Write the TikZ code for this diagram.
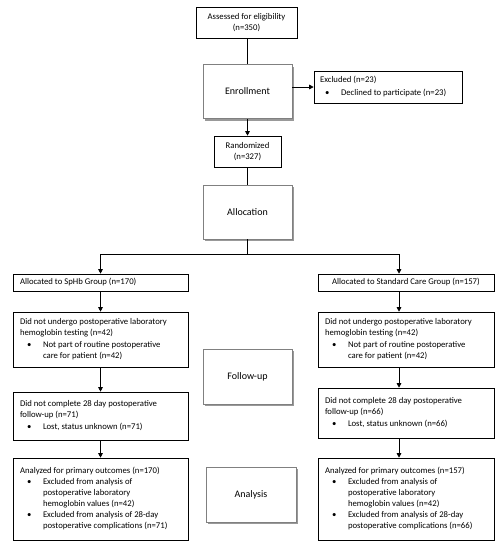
\documentclass[tikz,border=0pt]{standalone}
\usepackage{fontspec}
\setmainfont{Carlito}
\usepackage{tikz}
\usetikzlibrary{arrows.meta,positioning,shadows}

\newcommand{\bitem}{\hspace*{7pt}\makebox[16pt][l]{\textbullet}}
\newcommand{\bcont}{\hspace*{23pt}}

\begin{document}
\begin{tikzpicture}[
  x=1pt, y=-1pt,
  font=\fontsize{8.7}{11}\selectfont,
  box/.style={draw, line width=0.6pt, align=center, inner sep=0pt},
  listbox/.style={draw, line width=0.6pt, align=flush left, inner xsep=7pt, inner ysep=0pt, text width=161pt},
  stage/.style={draw=black!50, line width=0.8pt, fill=white, minimum width=89pt, minimum height=54pt,
    drop shadow={shadow xshift=2pt, shadow yshift=-2pt, fill=black!40, opacity=1},
    font=\fontsize{10}{12}\selectfont},
  arrow/.style={-{Triangle[length=4.5pt,width=4.5pt]}, line width=0.8pt},
  link/.style={line width=0.8pt}
]
\useasboundingbox (0,0) rectangle (500,546);

% top part
\node[box, minimum width=101pt, minimum height=31pt] (assess) at (246.5,22.5) {Assessed for eligibility\\(n=350)};
\node[stage] (enroll) at (247.5,91.5) {Enrollment};
\node[listbox, text width=136pt, inner xsep=6pt, minimum height=32pt] (excl) at (388,87) {Excluded (n=23)\\[2pt]\hspace*{-2pt}\bitem Declined to participate (n=23)};
\node[box, minimum width=67pt, minimum height=31pt] (rand) at (247.5,151.5) {Randomized\\(n=327)};
\node[stage] (alloc) at (247.5,212) {Allocation};
\coordinate (split) at (247.5,254);

% left column
\node[listbox, minimum height=17pt] (sphb) at (100.5,282.5) {Allocated to SpHb Group (n=170)};
\node[listbox, minimum height=55pt] (undL) at (100.5,339.5) {Did not undergo postoperative laboratory\\hemoglobin testing (n=42)\\[1pt]\bitem Not part of routine postoperative\\\bcont care for patient (n=42)};
\node[listbox, minimum height=48pt] (compL) at (100.5,416) {Did not complete 28 day postoperative\\follow-up (n=71)\\[1pt]\bitem Lost, status unknown (n=71)};
\node[listbox, minimum height=82pt] (anaL) at (100.5,499) {Analyzed for primary outcomes (n=170)\\\bitem Excluded from analysis of\\\bcont postoperative laboratory\\\bcont hemoglobin values (n=42)\\\bitem Excluded from analysis of 28-day\\\bcont postoperative complications (n=71)};

% stage labels
\node[stage, minimum height=55pt] (follow) at (247.5,376.5) {Follow-up};
\node[stage, minimum width=90pt, minimum height=55pt] (analysis) at (251,494.5) {Analysis};

% right column
\node[box, minimum width=176pt, minimum height=17pt] (std) at (406,282.5) {Allocated to Standard Care Group (n=157)};
\node[listbox, text width=162pt, minimum height=55pt] (undR) at (406,339.5) {Did not undergo postoperative laboratory\\hemoglobin testing (n=42)\\[1pt]\bitem Not part of routine postoperative\\\bcont care for patient (n=42)};
\node[listbox, text width=162pt, minimum height=50pt] (compR) at (406,413) {Did not complete 28 day postoperative\\follow-up (n=66)\\[1pt]\bitem Lost, status unknown (n=66)};
\node[listbox, text width=162pt, minimum height=82pt] (anaR) at (406,499) {Analyzed for primary outcomes (n=157)\\\bitem Excluded from analysis of\\\bcont postoperative laboratory\\\bcont hemoglobin values (n=42)\\\bitem Excluded from analysis of 28-day\\\bcont postoperative complications (n=66)};

% connectors
\draw[link] (assess.south -| enroll.north) -- (enroll.north);
\draw[arrow] (enroll.east |- excl.west) -- (excl.west);
\draw[arrow] (enroll) -- (rand);
\draw[link] (rand) -- (alloc);
\draw[link] (alloc) -- (split);
\draw[arrow] (split) -| (sphb.north);
\draw[arrow] (split) -| ([xshift=-7pt]std.north);
\draw[arrow] (sphb) -- (undL);
\draw[arrow] (undL) -- (compL);
\draw[arrow] (compL) -- (anaL);
\draw[arrow] ([xshift=-7pt]std.south) -- ([xshift=-7pt]undR.north);
\draw[arrow] ([xshift=-7pt]undR.south) -- ([xshift=-7pt]compR.north);
\draw[arrow] ([xshift=-7pt]compR.south) -- ([xshift=-7pt]anaR.north);
\end{tikzpicture}
\end{document}
